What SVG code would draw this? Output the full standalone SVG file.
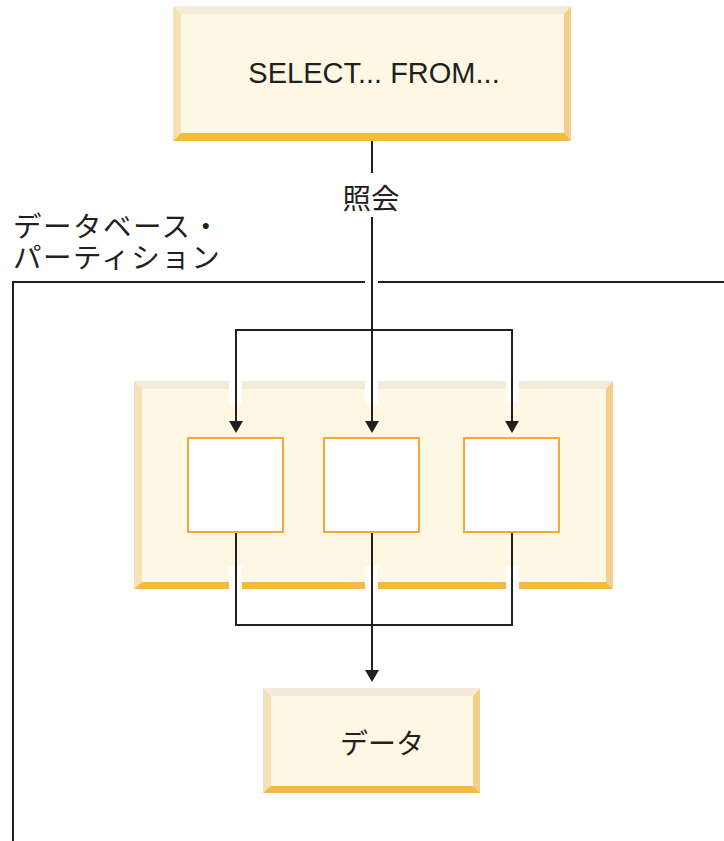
<svg xmlns="http://www.w3.org/2000/svg" width="724" height="841" viewBox="0 0 724 841">
<style>
.fill{fill:#fdf7e4}
.bt{fill:#f4ead8}
.bl{fill:#f5e0b8}
.br{fill:#f3cf8c}
.bb{fill:#f5b840}
.cell{fill:#ffffff;stroke:#f2a93a;stroke-width:2}
.ln{fill:none;stroke:#231f20;stroke-width:2}
.halo{fill:#ffffff}
.en{font-family:"Liberation Sans",Arial,sans-serif;fill:#231f20}
.jp{font-family:"Noto Sans CJK JP","Noto Sans",sans-serif;fill:#231f20}
</style>
<rect width="724" height="841" fill="#ffffff"/>

<g id="partition">
<path d="M13 841 V282 H365 M378 282 H726" class="ln"/>
<text class="jp" font-size="28.5" letter-spacing="1.5"><tspan x="13" y="237">データベース・</tspan><tspan x="13" y="268">パーティション</tspan></text>
</g>

<g id="query">
<rect x="173" y="6" width="398" height="135" class="fill"/>
<polygon points="173,6 571,6 563,14 181,14" class="bt"/>
<polygon points="173,6 181,14 181,133 173,141" class="bl"/>
<polygon points="571,6 571,141 564,134 564,14" class="br"/>
<polygon points="173,141 181,133 564,133 571,141" class="bb"/>
<text class="en" font-size="29" x="374" y="83" text-anchor="middle">SELECT... FROM...</text>
</g>

<g id="nodes">
<rect x="134" y="381" width="479" height="208" class="fill"/>
<polygon points="134,381 613,381 605,389 142,389" class="bt"/>
<polygon points="134,381 142,389 142,582 134,589" class="bl"/>
<polygon points="613,381 613,589 606,582 606,389" class="br"/>
<polygon points="134,589 142,582 606,582 613,589" class="bb"/>
<rect x="229" y="381" width="13" height="22" class="halo"/>
<rect x="365" y="381" width="13" height="22" class="halo"/>
<rect x="506" y="381" width="13" height="22" class="halo"/>
<rect x="229" y="566" width="13" height="24" class="halo"/>
<rect x="365" y="566" width="13" height="24" class="halo"/>
<rect x="506" y="566" width="13" height="24" class="halo"/>
</g>

<g id="node1"><rect x="188" y="438" width="95" height="94" class="cell"/></g>
<g id="node2"><rect x="324" y="438" width="95" height="94" class="cell"/></g>
<g id="node3"><rect x="464" y="438" width="95" height="94" class="cell"/></g>

<g id="data">
<rect x="263" y="688" width="217" height="105" class="fill"/>
<polygon points="263,688 480,688 472,696 271,696" class="bt"/>
<polygon points="263,688 271,696 271,786 263,793" class="bl"/>
<polygon points="480,688 480,793 473,786 473,696" class="br"/>
<polygon points="263,793 271,786 473,786 480,793" class="bb"/>
<text class="jp" font-size="28" x="382" y="754" text-anchor="middle">データ</text>
</g>

<g id="connectors">
<path d="M372 141 V173" class="ln"/>
<text class="jp" font-size="28.5" x="371" y="209" text-anchor="middle">照会</text>
<path d="M372 217 V421" class="ln"/>
<polygon points="365,421 379,421 372,433" fill="#231f20"/>
<path d="M236 421 V330 H512 V421" class="ln"/>
<polygon points="229,421 243,421 236,433" fill="#231f20"/>
<polygon points="505,421 519,421 512,433" fill="#231f20"/>
<path d="M236 533 V625 H512 V533" class="ln"/>
<path d="M372 533 V670" class="ln"/>
<polygon points="365,670 379,670 372,682" fill="#231f20"/>
</g>
</svg>
